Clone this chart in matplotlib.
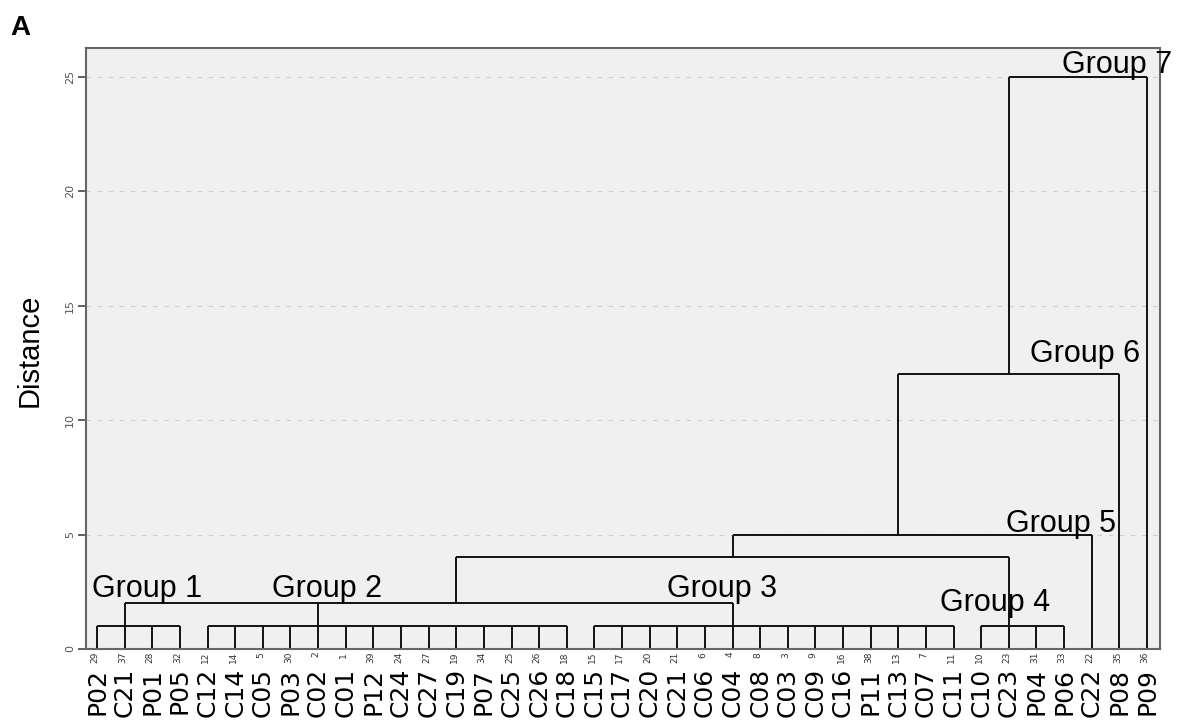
import matplotlib
matplotlib.use("Agg")
import matplotlib.pyplot as plt

# ---------------- data ----------------
leaf_names = ["P02", "C21", "P01", "P05", "C12", "C14", "C05", "P03", "C02", "C01",
              "P12", "C24", "C27", "C19", "P07", "C25", "C26", "C18", "C15", "C17",
              "C20", "C21", "C06", "C04", "C08", "C03", "C09", "C16", "P11", "C13",
              "C07", "C11", "C10", "C23", "P04", "P06", "C22", "P08", "P09"]
leaf_ids = [29, 37, 28, 32, 12, 14, 5, 30, 2, 1,
            39, 24, 27, 19, 34, 25, 26, 18, 15, 17,
            20, 21, 6, 4, 8, 3, 9, 16, 38, 13,
            7, 11, 10, 23, 31, 33, 22, 35, 36]

n_leaves = len(leaf_names)
# merges: children are node ids (0..38 leaves, 39+ merges in order)
merge_children = [
    list(range(0, 4)),        # 39  Group 1
    list(range(4, 18)),       # 40  Group 2
    list(range(18, 32)),      # 41  Group 3
    list(range(32, 36)),      # 42  Group 4
    [39, 40, 41],             # 43
    [43, 42],                 # 44
    [44, 36],                 # 45  Group 5
    [45, 37],                 # 46  Group 6
    [46, 38],                 # 47  Group 7
]
merge_heights = [1, 1, 1, 1, 2, 4, 5, 12, 25]
merge_stem_leaf = [1, 8, 23, 33, 13, 23, 29, 33, None]

group_names = ["Group 1", "Group 2", "Group 3", "Group 4", "Group 5", "Group 6", "Group 7"]
group_x = [-0.18, 6.33, 20.63, 30.5, 32.9, 33.77, 34.93]
group_y = [2.27, 2.27, 2.27, 1.66, 5.1, 12.53, 25.17]

y_ticks = [0, 5, 10, 15, 20, 25]

# ---------------- figure ----------------
W, H = 1177, 720
fig = plt.figure(figsize=(W / 100, H / 100), dpi=100)
ax = fig.add_axes([86 / W, (H - 649) / H, (1160 - 86) / W, (649 - 48) / H])
ax.set_facecolor("#f0f0f0")
ax.set_xlim(-0.4, 38.47)
ax.set_ylim(0, 26.25)

line_kw = dict(color="#111111", lw=1.4, solid_capstyle="butt")

node_x = {i: i for i in range(n_leaves)}
node_h = {i: 0 for i in range(n_leaves)}
for k, (children, h, stem) in enumerate(zip(merge_children, merge_heights, merge_stem_leaf)):
    xs = []
    for c in children:
        cx = node_x[c]
        ax.plot([cx, cx], [node_h[c], h], **line_kw)
        xs.append(cx)
    ax.plot([min(xs), max(xs)], [h, h], **line_kw)
    nid = n_leaves + k
    node_x[nid] = stem if stem is not None else (min(xs) + max(xs)) / 2
    node_h[nid] = h

for name, gx, gy in zip(group_names, group_x, group_y):
    ax.text(gx, gy, name, ha="left", va="baseline", fontsize=22,
            family="Liberation Sans", color="black", clip_on=False)

# x axis: leaf labels
ax.set_xticks(range(n_leaves))
ax.set_xticklabels(leaf_names, rotation=90, fontsize=18, family="DejaVu Sans")
ax.tick_params(axis="x", length=0, pad=13.5)
for i, num in enumerate(leaf_ids):
    ax.annotate(str(num), xy=(i, 0), xycoords=("data", "axes fraction"),
                xytext=(-1.5, -2), textcoords="offset points", rotation=90,
                ha="center", va="top", fontsize=6.5, color="#333333",
                family="DejaVu Sans")

# y axis
ax.set_yticks(y_ticks)
ax.set_yticklabels([str(v) for v in y_ticks], rotation=90, fontsize=8,
                   color="#555555", va="center")
ax.tick_params(axis="y", length=6, width=1.3, color="#555555", pad=2)
ax.yaxis.grid(True, linestyle=(0, (4, 6)), color="#cfcfcf", lw=0.8)
ax.xaxis.grid(False)
ax.set_axisbelow(True)

for sp in ax.spines.values():
    sp.set_color("#666666")
    sp.set_linewidth(1.5)

fig.text(29.5 / W, 1 - 350 / H, "Distance", rotation=90, ha="center", va="center",
         fontsize=21, family="Liberation Sans")
fig.text(10 / W, 1 - 35 / H, "A", ha="left", va="baseline", fontsize=20,
         fontweight="bold", family="Liberation Sans")

fig.savefig("out.png", dpi=100)
